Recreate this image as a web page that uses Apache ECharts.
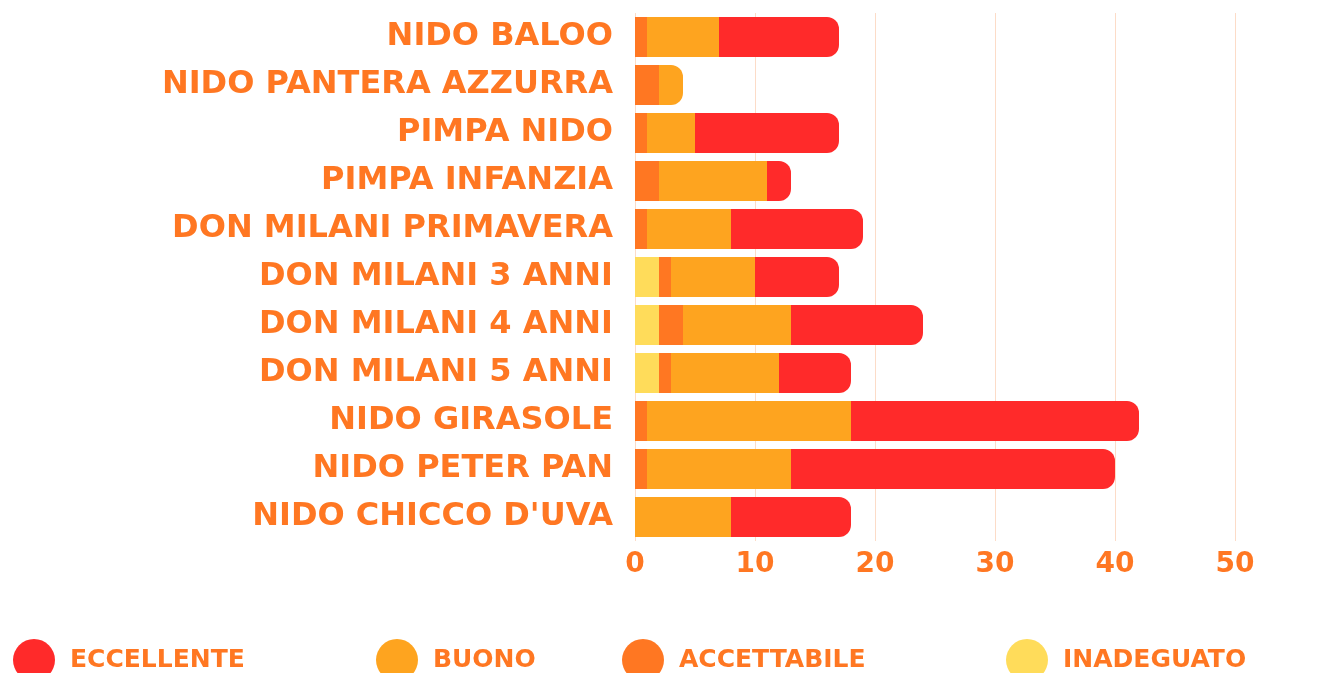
<!DOCTYPE html>
<html><head><meta charset="utf-8">
<script src="https://cdn.jsdelivr.net/npm/echarts@6/dist/echarts.min.js"></script>
<style>html,body{margin:0;padding:0;background:#fff}#c{width:1334px;height:673px}</style>
</head><body><div id="c"></div>
<script>
const categories = ["NIDO BALOO","NIDO PANTERA AZZURRA","PIMPA NIDO","PIMPA INFANZIA","DON MILANI PRIMAVERA","DON MILANI 3 ANNI","DON MILANI 4 ANNI","DON MILANI 5 ANNI","NIDO GIRASOLE","NIDO PETER PAN","NIDO CHICCO D'UVA"];
const inadeguato  = [0,0,0,0,0,2,2,2,0,0,0];
const accettabile = [1,2,1,2,1,1,2,1,1,1,0];
const buono       = [6,2,4,9,7,7,9,9,17,12,8];
const eccellente  = [10,0,12,2,11,7,11,6,24,27,10];
const xTicks = [0,10,20,30,40,50];
const legendNames = ['ECCELLENTE','BUONO','ACCETTABILE','INADEGUATO'];
const ORANGE = '#FF7722';
const FONT = 'DejaVu Sans';
const seriesDefs = [
  {name:'INADEGUATO', data:inadeguato, color:'#FFDC5A'},
  {name:'ACCETTABILE', data:accettabile, color:'#FF7722'},
  {name:'BUONO', data:buono, color:'#FEA41F'},
  {name:'ECCELLENTE', data:eccellente, color:'#FF2A2A'}
];
const lastIdx = categories.map((_,ci)=>{let l=-1;seriesDefs.forEach((s,si)=>{if(s.data[ci]>0)l=si;});return l;});
const series = seriesDefs.map((s,si)=>({
  name:s.name, type:'bar', stack:'t', barWidth:40,
  itemStyle:{color:s.color},
  data:s.data.map((v,ci)=>({value:v, itemStyle:{borderRadius: lastIdx[ci]===si?[0,12,12,0]:0}}))
}));
const legendLefts = [8,371,617,1001];
const legends = legendNames.map((n,i)=>({
  data:[n], left:legendLefts[i], top:634, icon:'circle', itemWidth:42, itemHeight:42,
  textStyle:{color:ORANGE,fontFamily:FONT,fontWeight:'bold',fontSize:25,padding:[0,0,0,10]}
}));
const chart = echarts.init(document.getElementById('c'));
chart.setOption({
  animation:false,
  grid:{left:635,right:39,top:13,bottom:132,containLabel:false},
  xAxis:{type:'value',min:0,max:55,interval:10,
    axisLine:{show:false},axisTick:{show:false},
    splitLine:{show:true,showMaxLine:false,lineStyle:{color:'#FCDCC8',width:1}},
    axisLabel:{color:ORANGE,fontFamily:FONT,fontWeight:'bold',fontSize:28,margin:10,
      formatter:v=>xTicks.includes(v)?String(v):''}
  },
  yAxis:{type:'category',data:categories,inverse:true,
    axisLine:{show:false},axisTick:{show:false},
    axisLabel:{color:ORANGE,fontFamily:FONT,fontWeight:'bold',fontSize:32,margin:22}
  },
  legend:legends,
  series:series
});
</script></body></html>
